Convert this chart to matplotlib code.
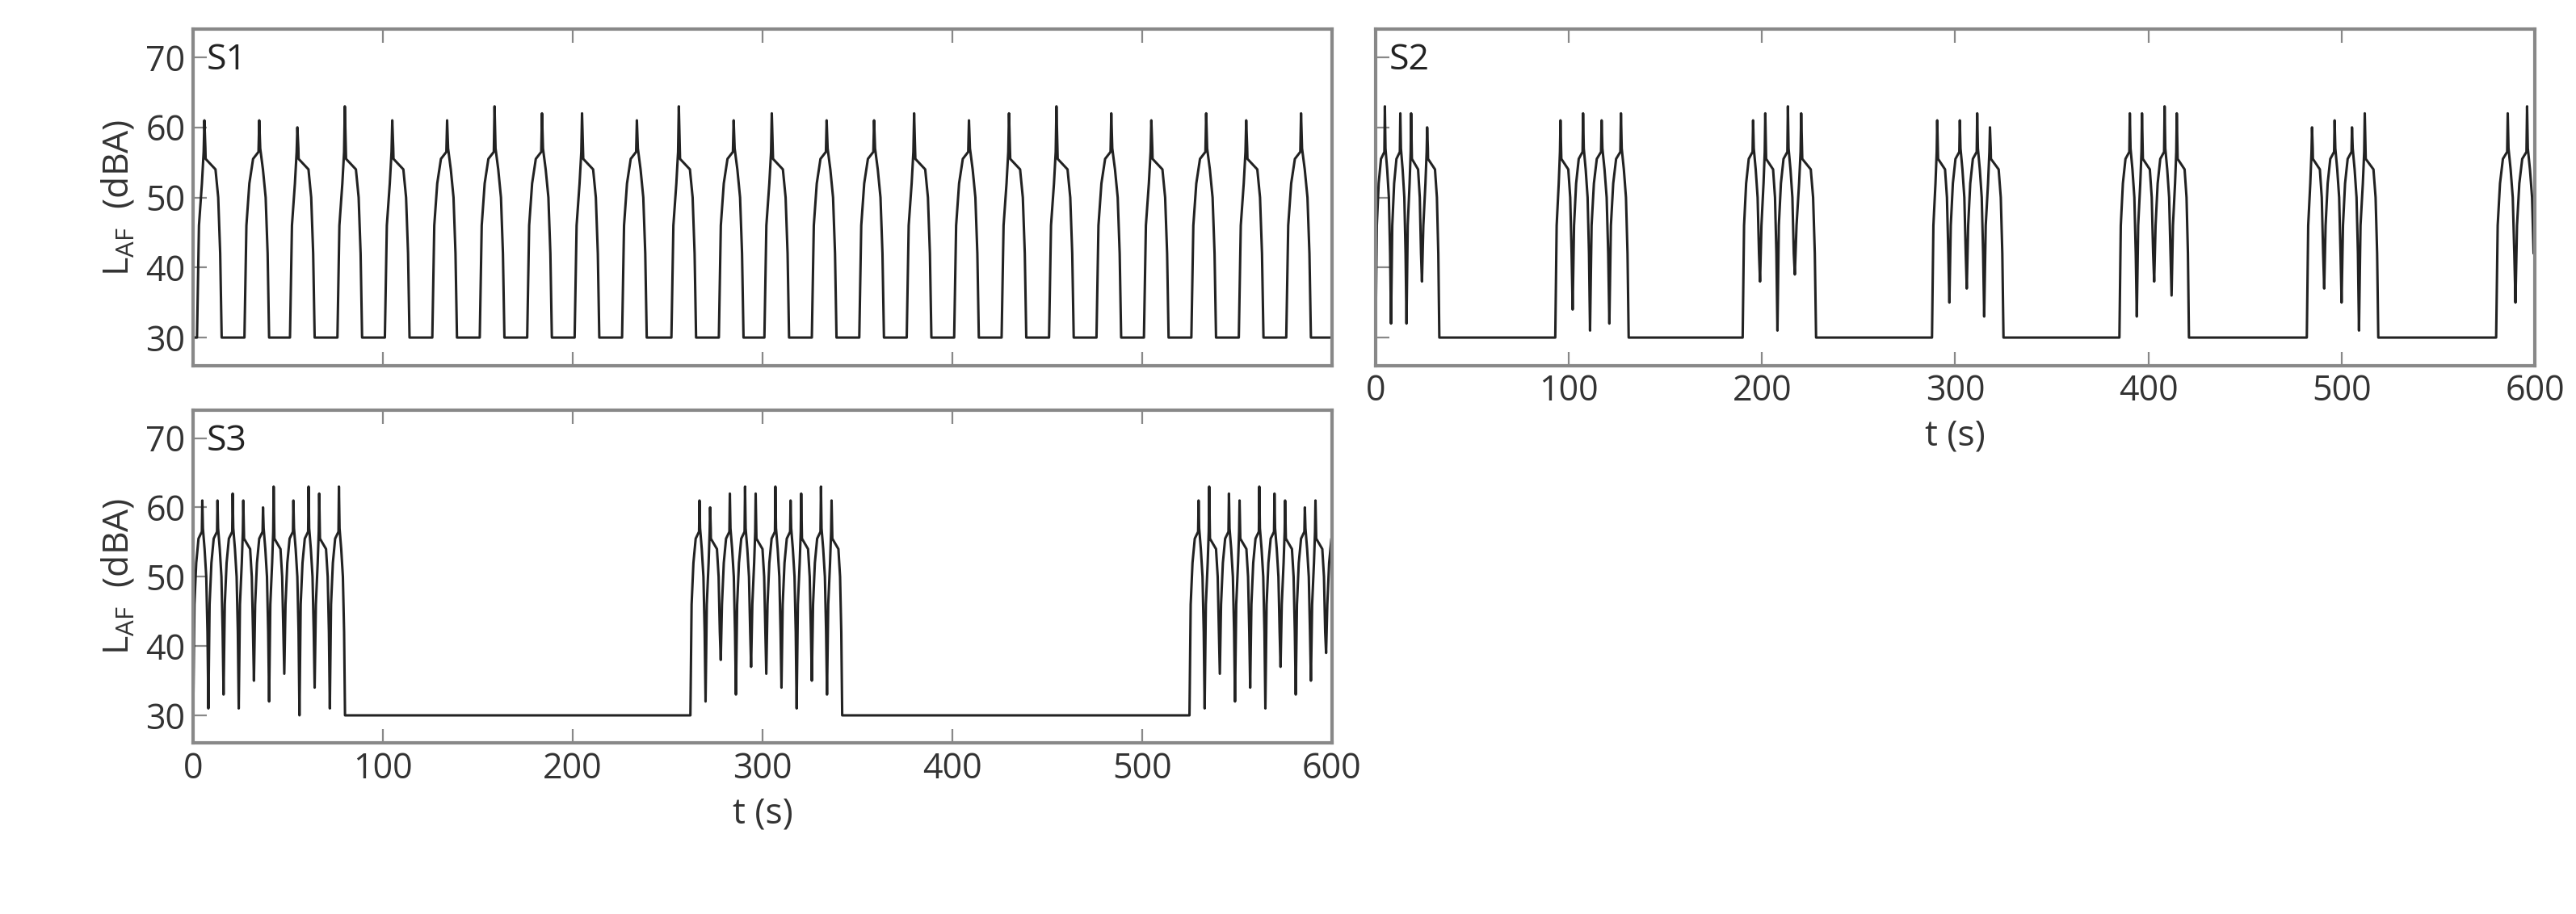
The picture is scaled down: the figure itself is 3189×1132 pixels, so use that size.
import numpy as np
import matplotlib.pyplot as plt

plt.rcParams['font.family'] = ['Open Sans', 'DejaVu Sans']

BASE = 30.0
# passby shape: fraction of event width -> level (plateau part)
SHAPE_FRAC = [0.0, 0.08, 0.2, 0.35, 0.75, 0.86, 0.94, 1.0]
SHAPE_LEVEL = [None, 46, 52, 55.5, 54, 50, 42, None]

# events: (start s, end s, spike level, spike fraction, level reached at end)
S1_START = [2, 27, 51, 76, 101, 126, 151, 176, 201, 226, 252, 277,
            301, 326, 351, 376, 401, 426, 451, 476, 501, 526, 551, 576]
S1_END = [s + 13 for s in S1_START]
S1_PEAK = [61, 61, 60, 63, 61, 61, 63, 62, 62, 61, 63, 61,
           62, 61, 61, 62, 61, 62, 63, 62, 61, 62, 61, 62]
S1_SPIKE = [0.3, 0.6, 0.3, 0.3, 0.3, 0.6, 0.6, 0.6, 0.3, 0.6, 0.3, 0.6,
            0.3, 0.6, 0.6, 0.3, 0.6, 0.3, 0.3, 0.6, 0.3, 0.6, 0.3, 0.6]
S1_FLOOR = [BASE] * 24

S2_START = [0, 8, 16, 24, 93, 102, 111, 121, 190, 199, 208, 217,
            288, 297, 306, 315, 385, 394, 403, 412, 482, 491, 500, 509, 580, 590]
S2_END = [8, 16, 24, 33, 102, 111, 121, 131, 199, 208, 217, 228,
          297, 306, 315, 325, 394, 403, 412, 421, 491, 500, 509, 519, 590, 600]
S2_PEAK = [63, 62, 62, 60, 61, 62, 61, 62, 61, 62, 63, 62,
           61, 61, 62, 60, 62, 62, 63, 62, 60, 61, 60, 62, 62, 63]
S2_SPIKE = [0.6, 0.6, 0.3, 0.3, 0.3, 0.6, 0.6, 0.6, 0.6, 0.3, 0.6, 0.3,
            0.3, 0.6, 0.6, 0.3, 0.6, 0.3, 0.6, 0.3, 0.3, 0.6, 0.6, 0.3, 0.6, 0.6]
S2_FLOOR = [32, 32, 38, BASE, 34, 31, 32, BASE, 38, 31, 39, BASE,
            35, 37, 33, BASE, 33, 38, 36, BASE, 37, 35, 31, BASE, 35, 45]

S3_START = [0, 8, 16, 24, 32, 40, 48, 56, 64, 72,
            262, 270, 278, 286, 294, 302, 310, 318, 326, 334,
            525, 533, 541, 549, 557, 565, 573, 581, 589, 597]
S3_END = [s + 8 for s in S3_START]
S3_PEAK = [61, 61, 62, 61, 60, 63, 61, 63, 62, 63,
           61, 60, 62, 63, 62, 63, 61, 62, 63, 61,
           61, 63, 62, 61, 63, 62, 61, 60, 61, 61]
S3_SPIKE = [0.6, 0.6, 0.6, 0.3, 0.6, 0.3, 0.6, 0.6, 0.3, 0.6,
            0.6, 0.3, 0.6, 0.6, 0.3, 0.6, 0.6, 0.3, 0.6, 0.3,
            0.6, 0.3, 0.6, 0.3, 0.6, 0.6, 0.3, 0.6, 0.3, 0.6]
S3_FLOOR = [31, 33, 31, 35, 32, 36, 30, 34, 31, BASE,
            32, 38, 33, 37, 36, 34, 31, 35, 33, BASE,
            31, 36, 32, 34, 31, 37, 33, 35, 39, 45]


def build(start, end, peak, spike, floor):
    t, y = [0.0], [BASE]
    prev = BASE
    for a, b, p, sf, f in zip(start, end, peak, spike, floor):
        pts = []
        for fr, lv in zip(SHAPE_FRAC, SHAPE_LEVEL):
            if lv is None:
                lv = prev if fr == 0 else f
            pts.append((fr, lv))
        pts += [(sf - 0.03, 56.5), (sf, p), (sf + 0.04, 57)]
        pts.sort()
        if prev == BASE:
            t.append(a)
            y.append(BASE)
        for fr, lv in pts[1:]:
            t.append(a + fr * (b - a))
            y.append(lv)
        prev = f
    t.append(600.0)
    y.append(prev)
    return t, y


fig = plt.figure(figsize=(15.945, 5.66), dpi=200)
boxes = [[0.075, 0.60, 0.442, 0.368], [0.534, 0.60, 0.450, 0.368], [0.075, 0.187, 0.442, 0.364]]
series = [(S1_START, S1_END, S1_PEAK, S1_SPIKE, S1_FLOOR),
          (S2_START, S2_END, S2_PEAK, S2_SPIKE, S2_FLOOR),
          (S3_START, S3_END, S3_PEAK, S3_SPIKE, S3_FLOOR)]
names = ['S1', 'S2', 'S3']

for i, (box, data, name) in enumerate(zip(boxes, series, names)):
    ax = fig.add_axes(box)
    t, y = build(*data)
    ax.plot(t, y, color='#222222', lw=1.1)
    ax.set_xlim(0, 600)
    ax.set_ylim(26, 74)
    ax.set_yticks([30, 40, 50, 60, 70])
    ax.set_xticks([0, 100, 200, 300, 400, 500, 600])
    ax.tick_params(direction='in', length=6, color='#888888', labelsize=15.5,
                   labelcolor='#333333', top=True, right=False)
    for sp in ax.spines.values():
        sp.set_color('#888888')
        sp.set_linewidth(1.5)
    ax.text(0.012, 0.96, name, transform=ax.transAxes, fontsize=16,
            va='top', color='#222222')
    if i == 0:
        ax.set_xticklabels([])
    if i == 1:
        ax.set_yticklabels([])
    else:
        ax.set_ylabel('L$_{\\mathregular{AF}}$  (dBA)', fontsize=16, color='#333333')
    if i > 0:
        ax.set_xlabel('t (s)', fontsize=16, color='#333333')

fig.savefig('out.png', dpi=200)
